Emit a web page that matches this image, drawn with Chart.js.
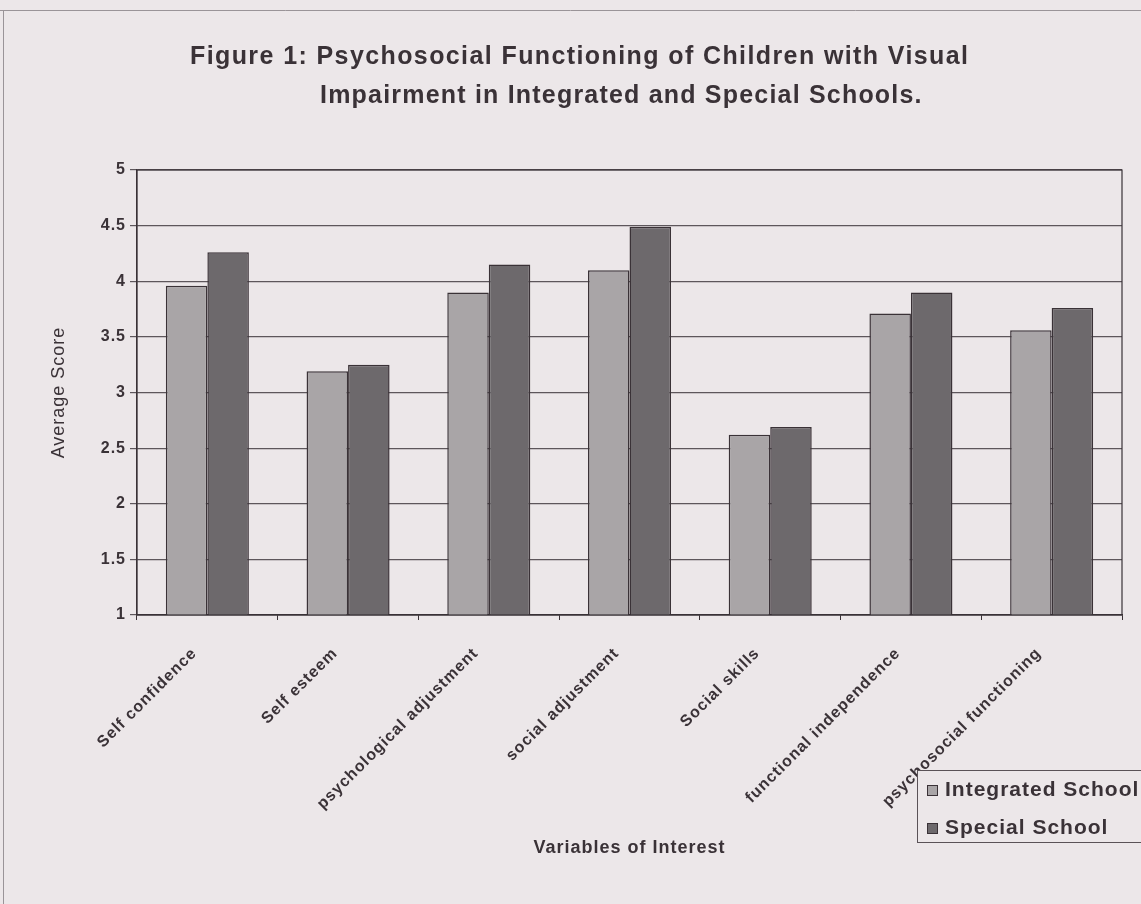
<!DOCTYPE html>
<html>
<head>
<meta charset="utf-8">
<script src="https://cdn.jsdelivr.net/npm/chart.js@4"></script>
<style>
  body { margin: 0; background: #ece7e9; }
  canvas { display: block; }
</style>
</head>
<body>
<canvas id="barChart" width="1141" height="904"></canvas>
<script>
// data
var categories = ['Self confidence', 'Self esteem', 'psychological adjustment', 'social adjustment',
                  'Social skills', 'functional independence', 'psychosocial functioning'];
var integratedScores = [3.96, 3.19, 3.90, 4.10, 2.62, 3.71, 3.56];
var specialScores = [4.26, 3.25, 4.15, 4.49, 2.69, 3.90, 3.76];
var seriesNames = ['Integrated School', 'Special School'];
var titleLines = ['Figure 1: Psychosocial Functioning of Children with Visual',
                  'Impairment in Integrated and Special Schools.'];

var ink = '#3a3237';
var font = '"Liberation Sans", Arial, sans-serif';

// paper background, frame, title, plot border and legend box
var paperPlugin = {
    id: 'paper',
    beforeUpdate: function (chart) {
        chart.ctx.letterSpacing = '1px';
    },
    beforeDraw: function (chart) {
        var c = chart.ctx;
        c.letterSpacing = '1px';
        c.save();
        c.fillStyle = '#ece7e9';
        c.fillRect(0, 0, chart.width, chart.height);
        c.strokeStyle = '#9a9498';
        c.lineWidth = 1;
        c.beginPath();
        c.moveTo(0, 10.5); c.lineTo(chart.width, 10.5);
        c.moveTo(3.5, 10); c.lineTo(3.5, chart.height);
        c.stroke();
        c.fillStyle = ink;
        c.font = 'bold 25px ' + font;
        c.textBaseline = 'middle';
        c.letterSpacing = '1.4px';
        c.fillText(titleLines[0], 190, 57);
        c.letterSpacing = '1.2px';
        c.fillText(titleLines[1], 320, 96);
        c.restore();
    },
    afterDraw: function (chart) {
        var c = chart.ctx, a = chart.chartArea;
        c.save();
        c.strokeStyle = ink;
        c.lineWidth = 1.2;
        c.strokeRect(a.left, a.top, a.right - a.left, a.bottom - a.top);

        // legend
        var lx = 917, ly = 770;
        c.fillStyle = '#ece7e9';
        c.fillRect(lx, ly, 240, 73);
        c.strokeStyle = '#5a5257';
        c.lineWidth = 1;
        c.strokeRect(lx + 0.5, ly + 0.5, 240, 72);
        c.font = 'bold 21px ' + font;
        c.letterSpacing = '1px';
        c.textBaseline = 'middle';
        chart.data.datasets.forEach(function (ds, i) {
            var y = ly + 20 + i * 38;
            c.fillStyle = ds.backgroundColor;
            c.fillRect(lx + 10, y - 5, 10, 10);
            c.strokeStyle = ink;
            c.strokeRect(lx + 10.5, y - 4.5, 10, 10);
            c.fillStyle = ink;
            c.fillText(ds.label, lx + 28, y);
        });
        c.restore();
    }
};

var ctx = document.getElementById('barChart').getContext('2d');
var myChart = new Chart(ctx, {
    type: 'bar',
    data: {
        labels: categories,
        datasets: [{
            label: seriesNames[0],
            data: integratedScores,
            backgroundColor: '#a9a5a7',
            borderColor: ink,
            borderWidth: 1.5
        }, {
            label: seriesNames[1],
            data: specialScores,
            backgroundColor: '#6d696c',
            borderColor: ink,
            borderWidth: 1.5
        }]
    },
    options: {
        responsive: false,
        animation: false,
        categoryPercentage: 0.59,
        barPercentage: 1.0,
        layout: { padding: { left: 48, top: 170, right: 19, bottom: 45 } },
        plugins: {
            legend: { display: false },
            title: { display: false },
            tooltip: { enabled: false }
        },
        scales: {
            x: {
                afterFit: function (scale) { scale.height = 244; },
                grid: { display: true, drawOnChartArea: false, tickLength: 5, color: ink, offset: true },
                border: { color: ink, width: 1.2 },
                ticks: {
                    color: ink,
                    font: { family: font, size: 16, weight: 'bold' },
                    minRotation: 45,
                    maxRotation: 45,
                    autoSkip: false,
                    padding: 24,
                    labelOffset: -13
                },
                title: {
                    display: true,
                    text: 'Variables of Interest',
                    color: ink,
                    font: { family: font, size: 18, weight: 'bold' },
                    padding: 0
                }
            },
            y: {
                min: 1,
                max: 5,
                afterFit: function (scale) { scale.width = 89; },
                grid: { color: '#5d565b', lineWidth: 1.2, tickLength: 7 },
                border: { color: ink, width: 1.2 },
                ticks: {
                    stepSize: 0.5,
                    color: ink,
                    font: { family: font, size: 16, weight: 'bold' },
                    padding: 4,
                    callback: function (value) { return String(Number(value)); }
                },
                title: {
                    display: true,
                    text: 'Average Score',
                    color: ink,
                    font: { family: font, size: 18 },
                    padding: 0
                }
            }
        }
    },
    plugins: [paperPlugin]
});
</script>
</body>
</html>
